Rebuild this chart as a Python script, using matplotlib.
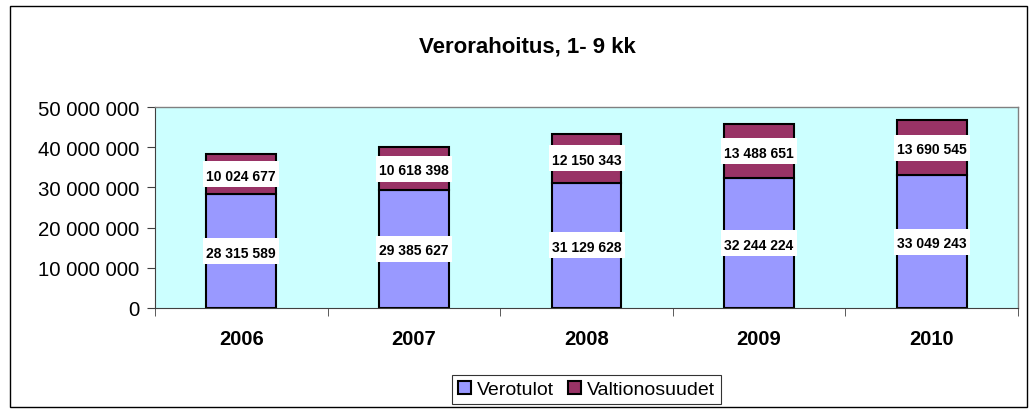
import matplotlib
matplotlib.use("Agg")
import matplotlib.pyplot as plt
from matplotlib.patches import Rectangle
import numpy as np

years = ["2006", "2007", "2008", "2009", "2010"]
verotulot = [28315589, 29385627, 31129628, 32244224, 33049243]
valtionosuudet = [10024677, 10618398, 12150343, 13488651, 13690545]
yticks = [0, 10000000, 20000000, 30000000, 40000000, 50000000]

plt.rcParams['font.family'] = ['Liberation Sans', 'DejaVu Sans']

def fmt(v):
    return f"{v:,}".replace(",", " ")

W, H = 1035, 414
fig = plt.figure(figsize=(W / 100, H / 100), dpi=100)
fig.patches.append(Rectangle((9.5 / W, 6 / H), 1017 / W, 401 / H, transform=fig.transFigure,
                             fill=False, edgecolor='black', linewidth=1.0))
ax_l, ax_r, ax_t, ax_b = 155, 1018, 108, 309
ax = fig.add_axes([ax_l / W, 1 - ax_b / H, (ax_r - ax_l) / W, (ax_b - ax_t) / H])
ax.set_facecolor('#CCFFFF')

x = np.arange(len(years))
w = 0.405
ax.bar(x, verotulot, w, color='#9999FF', edgecolor='black', linewidth=1.5, label='Verotulot', zorder=2)
ax.bar(x, valtionosuudet, w, bottom=verotulot, color='#993366', edgecolor='black', linewidth=1.5,
       label='Valtionosuudet', zorder=2)

ymax = 50000000
# label box size: ~76 px wide, ~26 px tall
bw = 76 / ((ax_r - ax_l) / len(years))
bh = 26 / (ax_b - ax_t) * ymax
for i in range(len(years)):
    for yc, v in [(verotulot[i] / 2, verotulot[i]),
                  (verotulot[i] + valtionosuudet[i] / 2, valtionosuudet[i])]:
        ax.add_patch(Rectangle((x[i] - bw / 2, yc - bh / 2), bw, bh, facecolor='white',
                               edgecolor='none', zorder=3))
        ax.text(x[i], yc, fmt(v), ha='center', va='center_baseline', fontsize=10,
                fontweight='bold', zorder=4)

ax.set_xlim(-0.5, len(years) - 0.5)
ax.set_ylim(0, ymax)
ax.set_yticks(yticks)
ax.set_yticklabels([fmt(v) if v else "0" for v in yticks], fontsize=14.7)
ax.set_xticks(x)
ax.set_xticklabels(years, fontsize=14.5, fontweight='bold')
ax.set_xticks(np.arange(len(years) + 1) - 0.5, minor=True)
ax.tick_params(axis='x', which='major', length=0, pad=15)
ax.tick_params(axis='x', which='minor', length=6, direction='out', color='#404040')
ax.tick_params(axis='y', length=6, direction='out', color='#404040', pad=5)
for s in ['top', 'right']:
    ax.spines[s].set_color('#808080')
    ax.spines[s].set_linewidth(1.0)
ax.spines['left'].set_color('#404040')
ax.spines['bottom'].set_color('#404040')

fig.text(527 / W, 1 - 47.5 / H, "Verorahoitus, 1- 9 kk", ha='center', va='center',
         fontsize=16, fontweight='bold')

leg = fig.legend(loc='center', bbox_to_anchor=(586.5 / W, 1 - 390.5 / H), ncol=2, fontsize=14,
                 frameon=True, fancybox=False, edgecolor='black', handlelength=0.7, handleheight=0.7,
                 handletextpad=0.3, columnspacing=0.7, borderpad=0.3, borderaxespad=0)
leg.get_frame().set_linewidth(0.8)
for p in leg.get_patches():
    p.set_edgecolor('black')
    p.set_linewidth(1.5)

fig.savefig("out.png", dpi=100)
